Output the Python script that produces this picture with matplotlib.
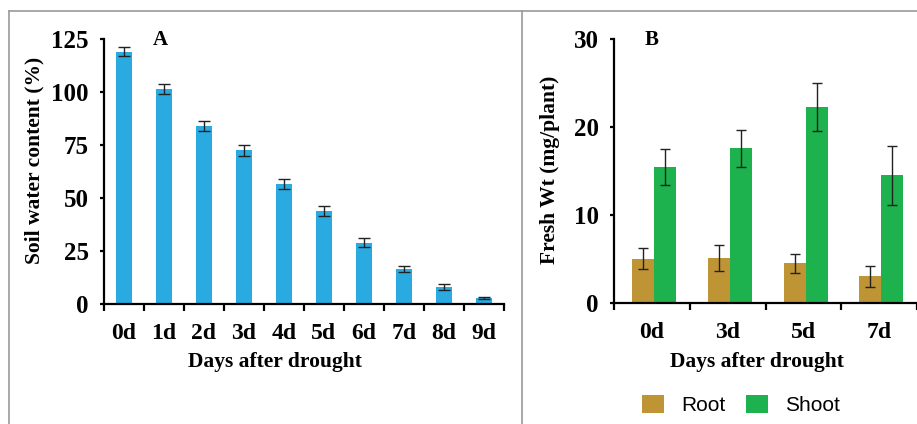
import matplotlib
matplotlib.use("Agg")
import matplotlib.pyplot as plt
import numpy as np
from matplotlib.patches import Patch
from matplotlib.lines import Line2D

# ---- data ----
days_a = ["0d", "1d", "2d", "3d", "4d", "5d", "6d", "7d", "8d", "9d"]
swc = [119, 101.5, 84, 72.5, 56.5, 44, 29, 16.5, 8, 3]
swc_err = [2.0, 2.3, 2.5, 2.5, 2.3, 2.3, 2.0, 1.5, 1.2, 0.5]

days_b = ["0d", "3d", "5d", "7d"]
root = [5.0, 5.1, 4.5, 3.0]
root_err = [1.2, 1.5, 1.1, 1.2]
shoot = [15.45, 17.6, 22.3, 14.5]
shoot_err = [2.0, 2.1, 2.7, 3.4]

W, H = 917, 424
fig = plt.figure(figsize=(W / 100, H / 100), dpi=100)
serif = "Liberation Serif"
sans = "Liberation Sans"

def fx(px):
    return px / W

def fy(py):
    return 1 - py / H

# grey frame lines
fig.add_artist(Line2D([fx(9), 1], [fy(11), fy(11)], color="#9a9a9a", lw=1.2))
fig.add_artist(Line2D([fx(9), fx(9)], [fy(11), 0], color="#9a9a9a", lw=1.2))
fig.add_artist(Line2D([fx(522), fx(522)], [fy(11), 0], color="#9a9a9a", lw=1.2))

def style_axes(ax, n):
    for s in ["top", "right"]:
        ax.spines[s].set_visible(False)
    for s in ["left", "bottom"]:
        ax.spines[s].set_linewidth(1.6)
        ax.spines[s].set_color("black")
    ax.set_xlim(-0.5, n - 0.5)
    ax.set_xticks(np.arange(n))
    ax.set_xticks(np.arange(n + 1) - 0.5, minor=True)
    ax.tick_params(axis="x", which="major", length=0, pad=14)
    ax.tick_params(axis="x", which="minor", length=5, width=1.6, direction="out")
    ax.tick_params(axis="y", length=3, width=1.6, direction="out", pad=8)
    for lab in ax.get_xticklabels():
        lab.set_fontfamily(serif)
        lab.set_fontweight("bold")
        lab.set_fontsize(17)
    for lab in ax.get_yticklabels():
        lab.set_fontfamily(serif)
        lab.set_fontweight("bold")
        lab.set_fontsize(18)

# ---- Panel A ----
axA = fig.add_axes([fx(104), fy(304), fx(504) - fx(104), fy(39) - fy(304)])
xa = np.arange(len(days_a))
axA.bar(xa, swc, width=0.42, color="#29ABE2", yerr=swc_err,
        error_kw=dict(ecolor="#222222", elinewidth=1.0, capsize=4, capthick=1.0))
axA.set_ylim(0, 125)
axA.set_yticks([0, 25, 50, 75, 100, 125])
axA.set_xticklabels(days_a)
style_axes(axA, len(days_a))
fig.text(fx(34), fy(160), "Soil water content (%)", fontfamily=serif, fontweight="bold",
         fontsize=15.5, ha="center", va="center", rotation=90)
fig.text(fx(160), fy(40), "A", fontfamily=serif, fontweight="bold", fontsize=15, ha="center", va="center")
fig.text(fx(275), fy(362), "Days after drought", fontfamily=serif, fontweight="bold", fontsize=15.5, ha="center", va="center")

# ---- Panel B ----
axB = fig.add_axes([fx(614), fy(302.7), 1 - fx(614), fy(39.3) - fy(302.7)])
xb = np.arange(len(days_b))
bw = 0.29
ek = dict(ecolor="#222222", elinewidth=1.0, capsize=3.5, capthick=1.0)
axB.bar(xb + 0.03 - bw / 2, root, width=bw, color="#BE9435", yerr=root_err, error_kw=ek, label="Root")
axB.bar(xb + 0.03 + bw / 2, shoot, width=bw, color="#1DB24E", yerr=shoot_err, error_kw=ek, label="Shoot")
axB.set_ylim(0, 30)
axB.set_yticks([0, 10, 20, 30])
axB.set_xticklabels(days_b)
style_axes(axB, len(days_b))
fig.text(fx(550), fy(170), "Fresh Wt (mg/plant)", fontfamily=serif, fontweight="bold",
         fontsize=15.5, ha="center", va="center", rotation=90)
fig.text(fx(652), fy(40), "B", fontfamily=serif, fontweight="bold", fontsize=15, ha="center", va="center")
fig.text(fx(757), fy(362), "Days after drought", fontfamily=serif, fontweight="bold", fontsize=15.5, ha="center", va="center")

handles = [Patch(facecolor="#BE9435"), Patch(facecolor="#1DB24E")]
fig.legend(handles, ["Root", "Shoot"], loc="center", bbox_to_anchor=(fx(741), fy(405)),
           ncol=2, frameon=False, prop={"family": sans, "size": 15},
           handlelength=1.05, handleheight=1.0, handletextpad=0.8, columnspacing=1.0)

fig.savefig("out.png", dpi=100)
